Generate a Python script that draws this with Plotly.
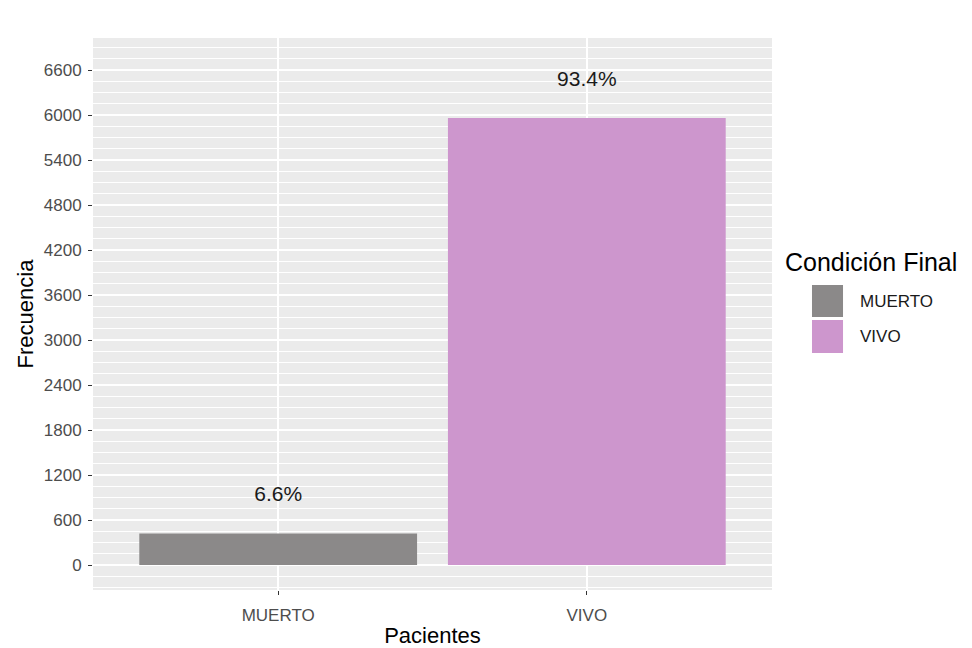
import plotly.graph_objects as go

# datos
categorias = ["MUERTO", "VIVO"]
frecuencias = [420, 5960]
colores = ["#8B8989", "#CD96CD"]
y_ticks = list(range(0, 6601, 600))

total = sum(frecuencias)
porcentajes = [f"{100 * v / total:.1f}%" for v in frecuencias]

fig = go.Figure()
for cat, val, col in zip(categorias, frecuencias, colores):
    fig.add_trace(go.Bar(x=[cat], y=[val], name=cat, marker_color=col,
                         marker_line_width=0, width=0.9, showlegend=False))

# etiquetas de porcentaje encima de las barras
fig.add_trace(go.Scatter(x=categorias, y=[v + 500 for v in frecuencias],
                         text=porcentajes, mode="text", showlegend=False,
                         textfont=dict(size=21, color="#1a1a1a"), hoverinfo="skip"))

# leyenda estilo ggplot (claves cuadradas grandes)
fig.add_annotation(text="Condición Final", xref="paper", yref="paper",
                   x=1.0162, y=0.5942, xanchor="left", yanchor="middle",
                   showarrow=False, font=dict(size=25, color="black"))
key_y = [(0.4946, 0.5525), (0.4293, 0.4891)]
for cat, col, (y0, y1) in zip(categorias, colores, key_y):
    fig.add_shape(type="rect", xref="paper", yref="paper", x0=1.0589, x1=1.1046,
                  y0=y0, y1=y1, fillcolor=col, line_width=0)
    fig.add_annotation(text=cat, xref="paper", yref="paper", x=1.1267,
                       y=(y0 + y1) / 2, xanchor="left", yanchor="middle",
                       showarrow=False, font=dict(size=17, color="#1a1a1a"))

fig.update_layout(
    width=972, height=648,
    margin=dict(l=85, r=208, t=30, b=66),
    paper_bgcolor="white", plot_bgcolor="#EBEBEB",
    font=dict(family="Liberation Sans, Arial, sans-serif", color="#4D4D4D"),
    bargap=0.1, showlegend=False,
)
fig.update_xaxes(
    range=[-0.6, 1.6], showgrid=True, gridcolor="white", gridwidth=1.5,
    ticks="outside", ticklen=4, tickcolor="#333333", ticklabelstandoff=6,
    tickfont=dict(size=17, color="#4D4D4D"), zeroline=False,
    title=dict(text="Pacientes", font=dict(size=22, color="black"), standoff=3),
)
fig.update_yaxes(
    range=[-333, 7027], tickvals=y_ticks, showgrid=True, gridcolor="white",
    gridwidth=1.5, zeroline=False, ticks="outside", ticklen=4, tickcolor="#333333",
    ticklabelstandoff=3, tickfont=dict(size=17, color="#4D4D4D"),
    minor=dict(dtick=150, tick0=0, showgrid=True, gridcolor="white", gridwidth=0.6),
    title=dict(text="Frecuencia", font=dict(size=22, color="black"), standoff=4),
)

fig.write_html("out.html")
